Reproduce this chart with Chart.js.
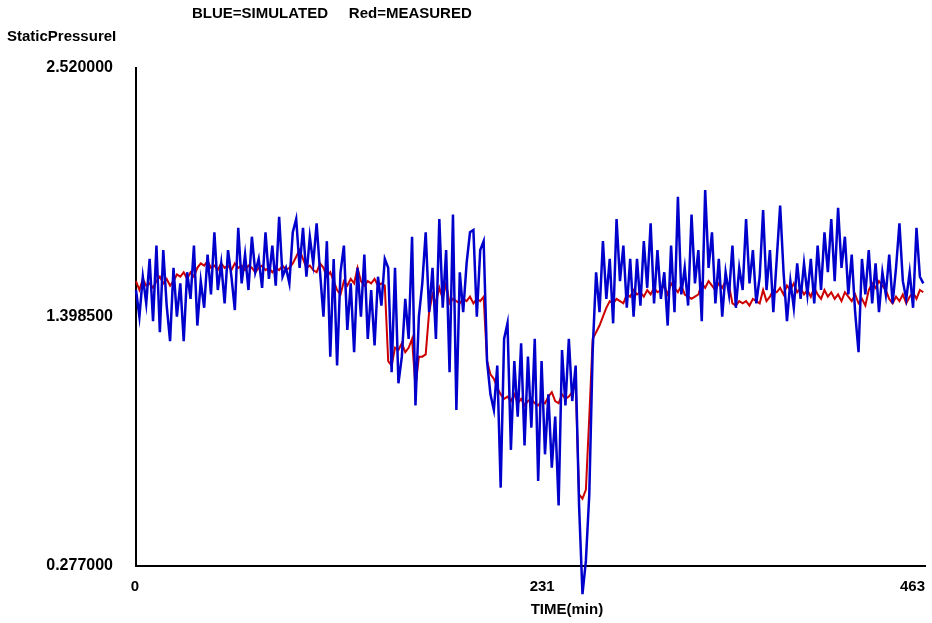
<!DOCTYPE html>
<html>
<head>
<meta charset="utf-8">
<script src="https://cdn.jsdelivr.net/npm/chart.js@4.4.1/dist/chart.umd.min.js"></script>
<style>
  html, body { margin: 0; padding: 0; background: #fff; }
  #wrap { position: relative; width: 932px; height: 623px; }
</style>
</head>
<body>
<div id="wrap"><canvas id="pressure"></canvas></div>
<script>
// samples every 2 minutes
const simulated = [
  1.52, 1.40, 1.58, 1.46, 1.66, 1.38, 1.72, 1.33, 1.70, 1.45,
  1.29, 1.62, 1.40, 1.55, 1.29, 1.60, 1.48, 1.72, 1.36, 1.56,
  1.44, 1.68, 1.50, 1.78, 1.52, 1.64, 1.46, 1.70, 1.58, 1.43,
  1.80, 1.55, 1.68, 1.52, 1.76, 1.60, 1.66, 1.53, 1.78, 1.57,
  1.72, 1.54, 1.85, 1.58, 1.62, 1.55, 1.78, 1.84, 1.62, 1.80,
  1.58, 1.76, 1.64, 1.82, 1.60, 1.40, 1.74, 1.22, 1.66, 1.18,
  1.60, 1.72, 1.34, 1.55, 1.24, 1.62, 1.40, 1.68, 1.30, 1.52,
  1.27, 1.58, 1.45, 1.66, 1.62, 1.15, 1.62, 1.10, 1.22, 1.48,
  1.30, 1.76, 1.00, 1.40, 1.55, 1.78, 1.42, 1.62, 1.30, 1.84,
  1.44, 1.70, 1.15, 1.86, 0.98, 1.60, 1.42, 1.64, 1.78, 1.79,
  1.40, 1.70, 1.74, 1.20, 1.05, 0.98, 1.18, 0.63, 1.30, 1.37,
  0.80, 1.20, 0.95, 1.28, 0.82, 1.22, 0.90, 1.30, 0.66, 1.20,
  0.78, 1.05, 0.72, 0.95, 0.55, 1.25, 1.00, 1.30, 1.02, 1.18,
  0.55, 0.15, 0.30, 0.60, 1.25, 1.60, 1.42, 1.74, 1.48, 1.66,
  1.37, 1.84, 1.56, 1.72, 1.44, 1.66, 1.40, 1.66, 1.45, 1.74,
  1.53, 1.82, 1.46, 1.70, 1.48, 1.60, 1.36, 1.72, 1.42, 1.94,
  1.50, 1.62, 1.45, 1.86, 1.55, 1.70, 1.38, 1.97, 1.62, 1.78,
  1.46, 1.66, 1.40, 1.60, 1.50, 1.72, 1.44, 1.62, 1.52, 1.84,
  1.55, 1.70, 1.46, 1.58, 1.88, 1.52, 1.70, 1.42, 1.66, 1.90,
  1.60, 1.38, 1.56, 1.44, 1.64, 1.48, 1.64, 1.50, 1.66, 1.46,
  1.72, 1.52, 1.78, 1.60, 1.84, 1.56, 1.89, 1.62, 1.76, 1.50,
  1.68, 1.42, 1.24, 1.66, 1.50, 1.70, 1.46, 1.64, 1.42, 1.60,
  1.50, 1.68, 1.46, 1.62, 1.82, 1.56, 1.48, 1.60, 1.44, 1.80,
  1.58, 1.55
];
const measured = [
  1.56, 1.52, 1.57, 1.54, 1.55, 1.53, 1.56, 1.58, 1.55, 1.57,
  1.54, 1.56, 1.59, 1.58, 1.60, 1.57, 1.60, 1.58, 1.62, 1.64,
  1.63, 1.65, 1.62, 1.63, 1.61, 1.64, 1.62, 1.63, 1.61, 1.64,
  1.62, 1.63, 1.61, 1.63, 1.62, 1.60, 1.62, 1.63, 1.61, 1.62,
  1.60, 1.62, 1.61, 1.63, 1.61, 1.62, 1.64, 1.67, 1.70, 1.66,
  1.62, 1.63, 1.61, 1.60, 1.64, 1.62, 1.58, 1.60, 1.56, 1.52,
  1.50, 1.56, 1.54, 1.57, 1.55, 1.62, 1.56, 1.54, 1.56, 1.55,
  1.57, 1.54, 1.55, 1.54, 1.20, 1.18, 1.26, 1.25, 1.28, 1.24,
  1.26, 1.30, 1.08, 1.22, 1.22, 1.23, 1.42, 1.50, 1.46, 1.53,
  1.48, 1.55, 1.46, 1.48, 1.47, 1.46, 1.48, 1.47, 1.49, 1.46,
  1.48, 1.47, 1.49, 1.20, 1.14, 1.12, 1.08, 1.05, 1.03, 1.04,
  1.02, 1.05, 1.01, 1.03, 1.00, 1.02, 1.03, 1.01, 1.00, 1.02,
  1.01, 1.04, 1.06, 1.02, 1.01, 1.05, 1.03, 1.04, 1.06, 1.10,
  0.60, 0.58, 0.62, 0.95, 1.30, 1.33, 1.36, 1.40, 1.44, 1.47,
  1.46, 1.48, 1.47, 1.46, 1.50, 1.49, 1.52, 1.50, 1.51, 1.49,
  1.52, 1.50, 1.53, 1.51, 1.52, 1.54, 1.50, 1.55, 1.53, 1.51,
  1.54, 1.50, 1.49, 1.48, 1.49, 1.50, 1.55, 1.53, 1.56, 1.54,
  1.52, 1.55, 1.53, 1.56, 1.54, 1.46, 1.45, 1.47, 1.46, 1.47,
  1.45, 1.48, 1.47, 1.46, 1.52, 1.47, 1.49, 1.52, 1.51, 1.53,
  1.50, 1.54, 1.52, 1.55, 1.51, 1.53, 1.50, 1.52, 1.49, 1.53,
  1.50, 1.48, 1.52, 1.49, 1.51, 1.48, 1.50, 1.47, 1.51, 1.49,
  1.47, 1.50, 1.46, 1.48, 1.45, 1.52, 1.55, 1.53, 1.56, 1.54,
  1.52, 1.48, 1.46, 1.49, 1.47, 1.50, 1.46, 1.49, 1.51, 1.48,
  1.52, 1.51
];
const timeMin = simulated.map((_, i) => i * 2);
const xTicks = [0, 231, 463];
const yTicks = [0.277, 1.3985, 2.52];

const fontFamily = "'Liberation Sans', Arial, sans-serif";
const yTickFont = { family: fontFamily, size: 16, weight: "bold" };

// title, y label, x labels: the old plotter puts the middle x label
// left of its tick and the last one right-aligned, so draw them here
const textPlugin = {
  id: "freeText",
  afterDraw(chart) {
    const ctx = chart.ctx;
    const xs = chart.scales.x;
    ctx.save();
    ctx.fillStyle = "#000";
    ctx.font = "bold 15px " + fontFamily;
    ctx.textBaseline = "middle";
    ctx.textAlign = "left";
    ctx.fillText("BLUE=SIMULATED     Red=MEASURED", 192, 14);
    ctx.fillText("StaticPressureI", 7, 37);
    ctx.fillText("TIME(min)", xs.getPixelForValue(231) + 1, 610);
    const aligns = ["center", "left", "right"];
    xTicks.forEach((v, i) => {
      ctx.textAlign = aligns[i];
      ctx.fillText(String(v), xs.getPixelForValue(v) - (i === 0 ? 1 : 0), 587);
    });
    ctx.restore();
  },
};

const ctx = document.getElementById("pressure").getContext("2d");
new Chart(ctx, {
  type: "line",
  data: {
    datasets: [
      {
        label: "SIMULATED",
        data: timeMin.map((t, i) => ({ x: t, y: simulated[i] })),
        borderColor: "#0000cc",
        borderWidth: 2.5,
        pointRadius: 0,
        clip: false,
      },
      {
        label: "MEASURED",
        data: timeMin.map((t, i) => ({ x: t, y: measured[i] })),
        borderColor: "#cc0000",
        borderWidth: 2,
        pointRadius: 0,
        clip: false,
      },
    ],
  },
  options: {
    responsive: true,
    maintainAspectRatio: false,
    animation: false,
    layout: { padding: { left: 0, right: 7, top: 68, bottom: 0 } },
    plugins: {
      legend: { display: false },
      tooltip: { enabled: false },
    },
    scales: {
      x: {
        type: "linear",
        min: 0,
        max: 463,
        afterBuildTicks: (s) => { s.ticks = xTicks.map((v) => ({ value: v })); },
        afterFit: (s) => { s.height = 57; s.paddingLeft = 0; s.paddingRight = 0; },
        grid: { display: false, drawTicks: false },
        border: { display: true, color: "#000", width: 2 },
        ticks: { display: false },
      },
      y: {
        min: 0.277,
        max: 2.52,
        afterBuildTicks: (s) => { s.ticks = yTicks.map((v) => ({ value: v })); },
        afterFit: (s) => { s.width = 136; },
        grid: { display: false, drawTicks: false },
        border: { display: true, color: "#000", width: 2 },
        ticks: {
          padding: 23,
          color: "#000",
          font: yTickFont,
          callback: (v) => Number(v).toFixed(6),
        },
      },
    },
  },
  plugins: [textPlugin],
});
</script>
</body>
</html>
